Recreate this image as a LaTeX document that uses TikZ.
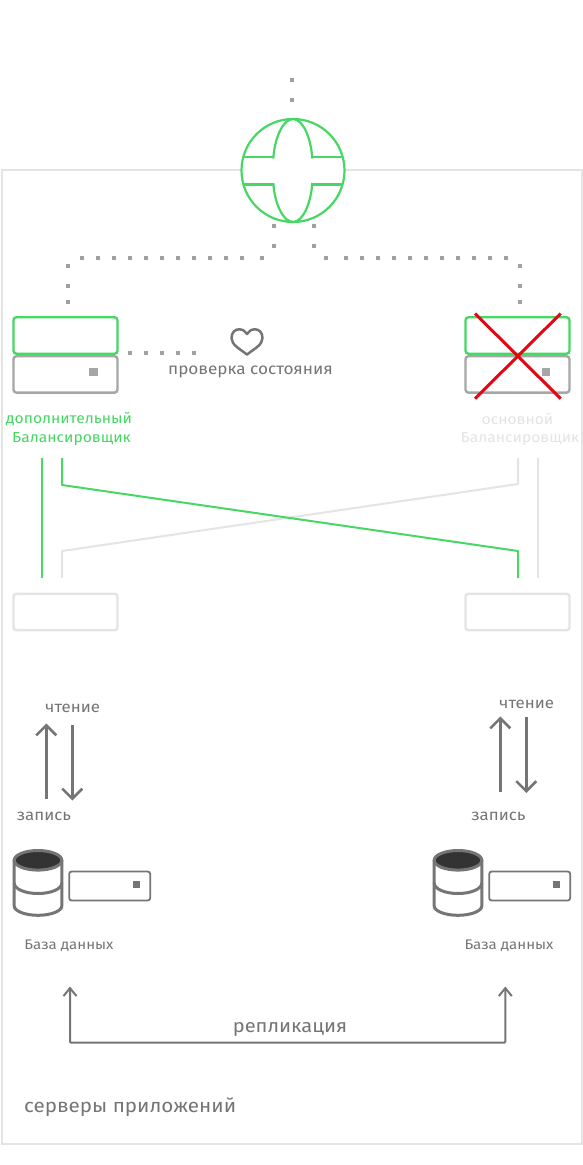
\documentclass[tikz,border=0pt]{standalone}
\usepackage{fontspec}
\setmainfont{Fira Sans}[FakeStretch=1.08]
\usetikzlibrary{arrows.meta}
\definecolor{grn}{HTML}{47D764}
\definecolor{frame}{HTML}{E4E4E4}
\definecolor{dotc}{HTML}{A0A0A0}
\definecolor{ink}{HTML}{757575}
\definecolor{txtc}{HTML}{757575}
\definecolor{srv}{HTML}{A6A6A6}
\definecolor{darkdb}{HTML}{333333}
\definecolor{xred}{HTML}{E30613}
\newcommand{\fs}[1]{\fontsize{#1}{#1}\selectfont}
\tikzset{
 box/.style={draw,rectangle,rounded corners=3,line width=2.4,minimum width=104,minimum height=36.5,inner sep=0,fill=white},
 greenbox/.style={box,draw=grn},
 greybox/.style={box,draw=srv},
 paleBox/.style={box,draw=frame},
 led/.style={fill=srv,draw=none,minimum size=8.5,inner sep=0,rectangle},
 smallsrv/.style={draw=ink,rectangle,rounded corners=2.5,line width=1.8,minimum width=81,minimum height=29,inner sep=0,fill=white},
 smallled/.style={fill=ink,draw=none,minimum size=6.5,inner sep=0,rectangle},
 dots/.style={draw=dotc,line width=4},
 uplink/.style={dots,dash pattern=on 4 off 16 on 4 off 20 on 4 off 16 on 4 off 12 on 4 off 12 on 4 off 12 on 4 off 12 on 4 off 12 on 4 off 12 on 4 off 12 on 4 off 12 on 4 off 12 on 4 off 12 on 4 off 18 on 4 off 16 on 4 off 12 on 4 off 40},
 lbl/.style={inner sep=0,text=#1},
 lbl/.default=txtc,
 rw/.style={draw=ink,line width=2.6,-{Straight Barb[length=10,width=20,line width=2.6]}},
 repl/.style={draw=ink,line width=2,rounded corners=1,{Straight Barb[length=8,width=13,line width=2]}-{Straight Barb[length=8,width=13,line width=2]}},
 glob/.style={draw=grn,line width=2.2},
 wire/.style={line width=2,line join=round},
}
\begin{document}
\begin{tikzpicture}[x=1pt,y=-1pt]
\useasboundingbox (0,0) rectangle (583,1165);
\fill[white] (0,0) rectangle (583,1165);
% frame
\draw[frame,line width=2] (2,170) rectangle (582,1144);
% internet dots
\coordinate (net) at (292,78);
\coordinate (netEnd) at (292,102);
\draw[dots,dash pattern=on 4 off 16] (net) -- (netEnd);
% globe
\node[draw=grn,fill=white,line width=2.2,circle,minimum size=103,inner sep=0] (globe) at (293,170.5) {};
\draw[glob] (273.3,158.5) .. controls (274.5,138) and (283,119) .. (293,119) .. controls (303,119) and (311,138) .. (312.3,158.5);
\draw[glob] (273.3,183) .. controls (274.5,203) and (283,222) .. (293,222) .. controls (303,222) and (311,203) .. (312.3,183);
\draw[glob] (243.5,157) -- (273.5,157) (312,157) -- (342,157) (243.5,184.5) -- (273.5,184.5) (312,184.5) -- (342,184.5);
% uplinks
\coordinate (gl) at (274,224);
\coordinate (glc) at (274,258);
\coordinate (blc) at (68,258);
\coordinate (bl) at (68,304);
\coordinate (gr) at (314,224);
\coordinate (grc) at (314,258);
\coordinate (brc) at (520,258);
\coordinate (br) at (520,304);
\draw[uplink] (gl) -- (glc) -- (blc) -- (bl);
\draw[uplink] (gr) -- (grc) -- (brc) -- (br);
% balancers
\node[greybox] (lsrv) at (65.5,374.4) {};
\node[greenbox] (lbal) at (65.5,335.5) {};
\node[led] (lled) at (93.7,372) {};
\node[greybox] (rsrv) at (517.5,374.4) {};
\node[greenbox] (rbal) at (517.5,335.5) {};
\node[led] (rled) at (546,372) {};
\draw[xred,line width=3] (475,313.5) -- (560.7,398.7) (560.7,313.5) -- (475,398.7);
% health check
\coordinate (hc1) at (128,353.3);
\coordinate (hc2) at (196,353.3);
\draw[dots,dash pattern=on 4 off 12] (hc1) -- (hc2);
\draw[ink,line width=2.5,line join=round] (247,354.5) .. controls (240,349) and (231.5,345) .. (231.5,338) .. controls (231.5,332.5) and (235,329.3) .. (239,329.3) .. controls (242.5,329.3) and (245.5,331) .. (247,334) .. controls (248.5,331) and (251.5,329.3) .. (255,329.3) .. controls (259,329.3) and (262.5,332.5) .. (262.5,338) .. controls (262.5,345) and (254,349) .. (247,354.5) -- cycle;
\node[lbl] (hc) at (250.5,371.5) {\fs{15.9}проверка состояния};
\node[lbl=grn] (lname1) at (69,419) {\fs{14.5}дополнительный};
\node[lbl=grn] (lname2) at (71.5,439) {\fs{14.5}Балансировщик};
\node[lbl=frame] (rname1) at (517.5,419) {\fs{14.5}основной};
\node[lbl=frame] (rname2) at (520,439) {\fs{14.5}Балансировщик};
% lower boxes
\node[paleBox] (lapp) at (65.5,612) {};
\node[paleBox] (rapp) at (517.5,612) {};
% wires
\coordinate (a1) at (42,458); \coordinate (a2) at (42,578);
\coordinate (b1) at (62,458); \coordinate (b2) at (62,485); \coordinate (b3) at (518,551); \coordinate (b4) at (518,578);
\coordinate (c1) at (538,458); \coordinate (c2) at (538,578);
\coordinate (d1) at (518,458); \coordinate (d2) at (518,484); \coordinate (d3) at (62,551); \coordinate (d4) at (62,578);
\draw[wire,frame] (c1) -- (c2);
\draw[wire,frame] (d1) -- (d2) -- (d3) -- (d4);
\draw[wire,grn] (a1) -- (a2);
\draw[wire,grn] (b1) -- (b2) -- (b3) -- (b4);
% read/write
\node[lbl] (lread) at (72.7,708) {\fs{15.6}чтение};
\node[lbl] (lwrite) at (44,816) {\fs{15.6}запись};
\node[lbl] (rread) at (526.7,704) {\fs{15.6}чтение};
\node[lbl] (rwrite) at (498.5,816) {\fs{15.6}запись};
\coordinate (lu1) at (46.3,799); \coordinate (lu2) at (46.3,723.5);
\coordinate (ld1) at (72.3,725); \coordinate (ld2) at (72.3,800.5);
\coordinate (ru1) at (500.3,791.5); \coordinate (ru2) at (500.3,716.5);
\coordinate (rd1) at (526.3,717); \coordinate (rd2) at (526.3,793);
\draw[rw] (lu1) -- (lu2);
\draw[rw] (ld1) -- (ld2);
\draw[rw] (ru1) -- (ru2);
\draw[rw] (rd1) -- (rd2);
% databases
\foreach \dx in {0,420}{
\begin{scope}[shift={(\dx,0)}]
\draw[ink,line width=3] (14.2,860) -- (14.2,906) .. controls (14.2,911) and (25,915.3) .. (38,915.3) .. controls (51,915.3) and (61.8,911) .. (61.8,906) -- (61.8,860);
\draw[ink,line width=3] (14.2,883) .. controls (14.2,889) and (25,893.5) .. (38,893.5) .. controls (51,893.5) and (61.8,889) .. (61.8,883);
\draw[ink,fill=darkdb,line width=3] (38,860.3) ellipse [x radius=23.8,y radius=9.8];
\node[smallsrv] (srv\dx) at (109.7,886) {};
\node[smallled] (led\dx) at (136.6,884.5) {};
\end{scope}
}
\node[lbl] (ldb) at (69,946) {\fs{13.9}База данных};
\node[lbl] (rdb) at (509,946) {\fs{13.9}База данных};
% replication
\coordinate (r1) at (70,986.5); \coordinate (r2) at (70,1042.7); \coordinate (r3) at (505.3,1042.7); \coordinate (r4) at (505.3,986.5);
\draw[repl] (r1) -- (r2) -- (r3) -- (r4);
\node[lbl] (rep) at (290,1029) {\fs{18.6}репликация};
\node[lbl,anchor=west] (apps) at (24,1107.5) {\fs{19.1}серверы приложений};
\end{tikzpicture}
\end{document}
